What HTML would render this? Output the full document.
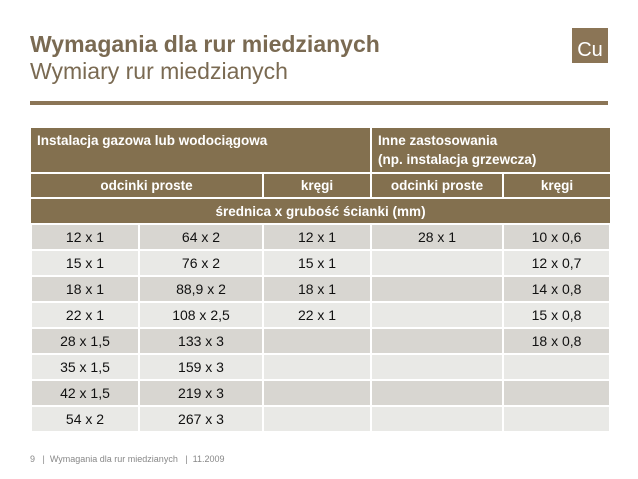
<!DOCTYPE html>
<html><head><meta charset="utf-8"><style>
body{margin:0;width:638px;height:479px;background:#fff;position:relative;overflow:hidden;font-family:"Liberation Sans",sans-serif}
.t1{position:absolute;left:30px;top:31px;font-size:23px;font-weight:bold;color:#7a6a52}
.t2{position:absolute;left:30px;top:58px;font-size:23px;color:#7a6a52}
.cu{position:absolute;left:572px;top:28px;width:36px;height:35px;background:#8b7556;color:#fff;font-size:20px;text-align:center;line-height:44px}
.rule{position:absolute;left:30px;top:101px;width:578px;height:4px;background:#8b7556}
table{position:absolute;left:30px;top:128px;width:579px;border-collapse:collapse;table-layout:fixed;border:none}
td{border:2px solid #fff;padding:0;font-size:14px;text-align:center;color:#111}
.h td{background:#83704f;color:#fff;font-weight:bold;font-size:13.5px}
.a td{background:#d8d6d1;height:24px}
.b td{background:#e9e9e6;height:24px}
</style></head><body>
<div class="t1">Wymagania dla rur miedzianych</div>
<div class="t2">Wymiary rur miedzianych</div>
<div class="cu">Cu</div>
<div class="rule"></div>
<table>
<colgroup><col style="width:108px"><col style="width:124px"><col style="width:108px"><col style="width:132px"><col style="width:107px"></colgroup>
<tr class="h"><td colspan="3" style="text-align:left;vertical-align:top;padding:3px 6px;height:37px;border-top:0;border-left:0;line-height:19px">Instalacja gazowa lub wodociągowa</td><td colspan="2" style="text-align:left;vertical-align:top;padding:3px 6px;line-height:19px;border-top:0;border-right:0">Inne zastosowania<br>(np. instalacja grzewcza)</td></tr>
<tr class="h"><td colspan="2" style="height:23px;border-left:0">odcinki proste</td><td>kręgi</td><td>odcinki proste</td><td style="border-right:0">kręgi</td></tr>
<tr class="h"><td colspan="5" style="height:24px;border-left:0;border-right:0">średnica x grubość ścianki (mm)</td></tr>
<tr class="a"><td>12 x 1</td><td>64 x 2</td><td>12 x 1</td><td>28 x 1</td><td>10 x 0,6</td></tr>
<tr class="b"><td>15 x 1</td><td>76 x 2</td><td>15 x 1</td><td></td><td>12 x 0,7</td></tr>
<tr class="a"><td>18 x 1</td><td>88,9 x 2</td><td>18 x 1</td><td></td><td>14 x 0,8</td></tr>
<tr class="b"><td>22 x 1</td><td>108 x 2,5</td><td>22 x 1</td><td></td><td>15 x 0,8</td></tr>
<tr class="a"><td>28 x 1,5</td><td>133 x 3</td><td></td><td></td><td>18 x 0,8</td></tr>
<tr class="b"><td>35 x 1,5</td><td>159 x 3</td><td></td><td></td><td></td></tr>
<tr class="a"><td>42 x 1,5</td><td>219 x 3</td><td></td><td></td><td></td></tr>
<tr class="b"><td>54 x 2</td><td>267 x 3</td><td></td><td></td><td></td></tr>
</table>
<div style="position:absolute;left:30px;top:454px;font-size:9px;color:#888">9 &nbsp;&nbsp;| &nbsp;Wymagania dla rur miedzianych &nbsp;&nbsp;| &nbsp;11.2009</div>
</body></html>
